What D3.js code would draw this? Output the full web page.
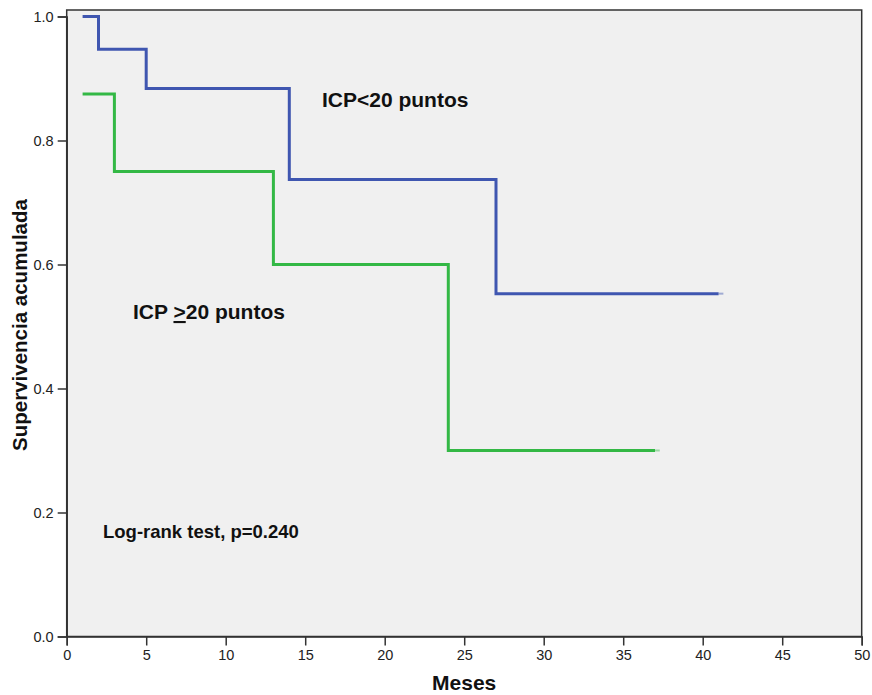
<!DOCTYPE html>
<html><head><meta charset="utf-8">
<script src="https://cdn.jsdelivr.net/npm/d3@7"></script>
<style>body{margin:0;background:#fff;}text{font-family:"Liberation Sans",Arial,sans-serif;}</style>
</head><body>
<svg id="c" width="872" height="695"></svg>
<script>
const xTicks = [0,5,10,15,20,25,30,35,40,45,50];
const yTicks = [0.0,0.2,0.4,0.6,0.8,1.0];
const lowTimes = [1,2,5,14,27,41];
const lowSurv  = [1.0,0.947,0.884,0.737,0.553,0.553];
const highTimes = [1,3,13,24,37];
const highSurv  = [0.875,0.75,0.60,0.30,0.30];

const svg = d3.select('#c');
const L=66.7,R=861.7,T=10,B=636.5;
const x = d3.scaleLinear().domain([0,50]).range([L,R]);
const y = d3.scaleLinear().domain([0,1]).range([B,16.5]);

svg.append('rect').attr('x',L).attr('y',T).attr('width',R-L).attr('height',B-T).attr('fill','#f0f0f0')
  .attr('stroke','#333').attr('stroke-width',1.5);

const xa = svg.append('g').attr('transform',`translate(0,${B})`)
  .call(d3.axisBottom(x).tickValues(xTicks).tickSize(9).tickPadding(4).tickFormat(d3.format('d')));
const ya = svg.append('g').attr('transform',`translate(${L},0)`)
  .call(d3.axisLeft(y).tickValues(yTicks).tickSize(9).tickPadding(4).tickFormat(d3.format('.1f')));
[xa,ya].forEach(a=>{
  a.select('.domain').attr('stroke','#333').attr('stroke-width',1.5);
  a.selectAll('.tick line').attr('stroke','#333').attr('stroke-width',1.5);
  a.selectAll('.tick text').attr('font-size',14.5).attr('fill','#222').attr('font-family','"Liberation Sans",Arial,sans-serif');
});

function stepLine(times,surv){
  const pts=[];
  for(let i=0;i<times.length;i++){
    if(i>0) pts.push([times[i],surv[i-1]]);
    pts.push([times[i],surv[i]]);
  }
  return pts;
}
const line = d3.line().x(d=>x(d[0])).y(d=>y(d[1]));
const curves = [[lowTimes,lowSurv,'#3f56b0'],[highTimes,highSurv,'#33b845']];
curves.forEach(([t,s,c])=>{
  svg.append('path').datum(stepLine(t,s)).attr('d',line)
    .attr('fill','none').attr('stroke',c).attr('stroke-width',3);
  const lt=t[t.length-1], ls=s[s.length-1];
  svg.append('path').datum([[lt,ls],[lt+0.3,ls]]).attr('d',line)
    .attr('fill','none').attr('stroke',c).attr('stroke-opacity',0.45).attr('stroke-width',2);
});

svg.append('text').attr('x',322).attr('y',107).attr('font-size',21).attr('font-weight','bold').attr('fill','#111').text('ICP<20 puntos');
const t2 = svg.append('text').attr('x',133).attr('y',319).attr('font-size',21).attr('font-weight','bold').attr('fill','#111');
t2.append('tspan').text('ICP ');
t2.append('tspan').attr('text-decoration','underline').text('>');
t2.append('tspan').text('20 puntos');
svg.append('text').attr('x',103).attr('y',538).attr('font-size',18.5).attr('font-weight','bold').attr('fill','#111').text('Log-rank test, p=0.240');

svg.append('text').attr('x',(L+R)/2).attr('y',690).attr('text-anchor','middle').attr('font-size',21).attr('font-weight','bold').attr('fill','#111').text('Meses');
svg.append('text').attr('transform',`translate(27,325) rotate(-90)`).attr('text-anchor','middle').attr('font-size',20.5).attr('font-weight','bold').attr('fill','#111').text('Supervivencia acumulada');
</script>
</body></html>
